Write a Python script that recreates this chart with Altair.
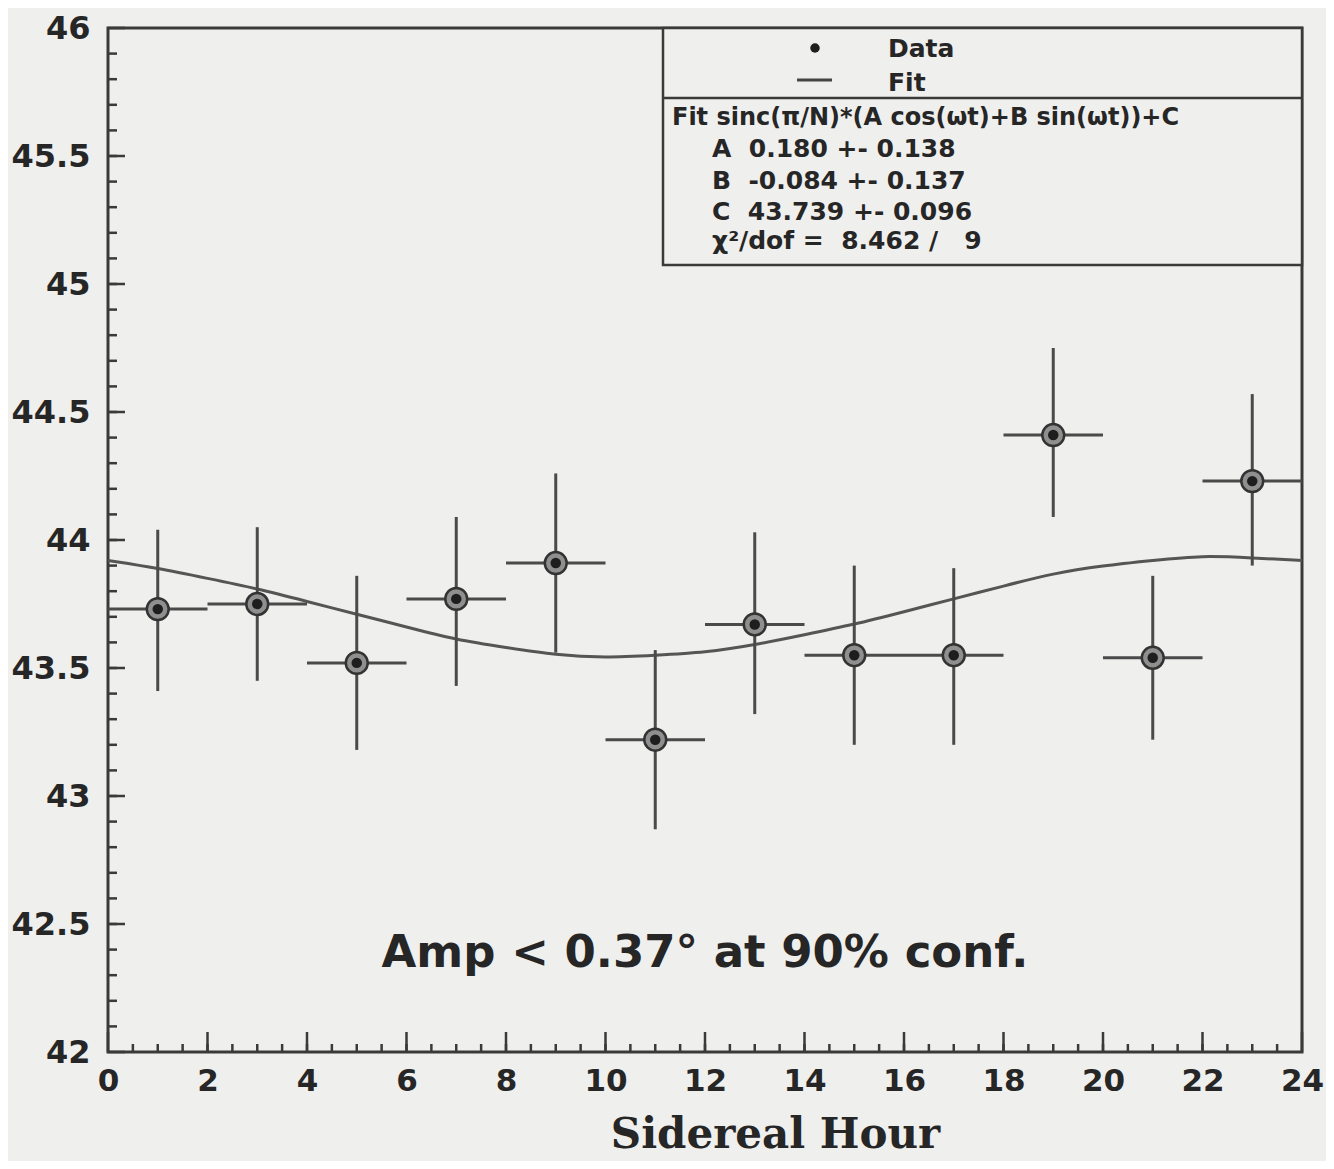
import altair as alt
import pandas as pd
import numpy as np

# ---- data ----
hours = [1, 3, 5, 7, 9, 11, 13, 15, 17, 19, 21, 23]
bin_lo = [0, 2, 4, 6, 8, 10, 12, 14, 16, 18, 20, 22]
bin_hi = [2, 4, 6, 8, 10, 12, 14, 16, 18, 20, 22, 24]
values = [43.73, 43.75, 43.52, 43.77, 43.91, 43.22, 43.67, 43.55, 43.55, 44.41, 43.54, 44.23]
err_hi = [44.04, 44.05, 43.86, 44.09, 44.26, 43.57, 44.03, 43.90, 43.89, 44.75, 43.86, 44.57]
err_lo = [43.41, 43.45, 43.18, 43.43, 43.56, 42.87, 43.32, 43.20, 43.20, 44.09, 43.22, 43.90]

fit_t = list(range(0, 25))
fit_y = [43.92, 43.89, 43.85, 43.81, 43.76, 43.71, 43.66, 43.61, 43.58, 43.55,
         43.54, 43.55, 43.56, 43.59, 43.63, 43.67, 43.72, 43.77, 43.82, 43.87,
         43.90, 43.92, 43.94, 43.93, 43.92]

x_tick_labels = list(range(0, 25, 2))
y_tick_labels = [42, 42.5, 43, 43.5, 44, 44.5, 45, 45.5, 46]

# ---- style ----
BG = "#efefed"
INK = "#3a3a3a"
TXT = "#262626"
W, H = 1194, 1024

pts = pd.DataFrame({"hour": hours, "lo": bin_lo, "hi": bin_hi,
                    "val": values, "ehi": err_hi, "elo": err_lo})
fit = pd.DataFrame({"t": fit_t, "y": fit_y})

xs = alt.Scale(domain=[0, 24], nice=False, zero=False)
ys = alt.Scale(domain=[42, 46], nice=False, zero=False)

xaxis = alt.Axis(values=x_tick_labels, tickSize=0, domain=False, grid=False,
                 labelFont="DejaVu Sans", labelFontWeight="bold", labelFontSize=31,
                 labelColor=TXT, labelPadding=14, labelFlush=False, labelOverlap=False,
                 title="Sidereal Hour", titleFont="DejaVu Serif", titleFontWeight="bold",
                 titleFontSize=42, titleColor=TXT, titleX=667, titleY=95,
                 titleAlign="center", titleBaseline="alphabetic")
yaxis = alt.Axis(values=y_tick_labels, tickSize=0, domain=False, grid=False, format="~g",
                 labelFont="DejaVu Sans", labelFontWeight="bold", labelFontSize=32,
                 labelColor=TXT, labelPadding=18, labelFlush=False, labelOverlap=False,
                 title=None)

base_axes = alt.Chart(fit).mark_line(strokeWidth=3, color="#555555",
                                     interpolate="basis").encode(
    x=alt.X("t:Q", scale=xs, axis=xaxis),
    y=alt.Y("y:Q", scale=ys, axis=yaxis),
)

vbars = alt.Chart(pts).mark_rule(strokeWidth=3, color="#4a4a4a").encode(
    x=alt.X("hour:Q", scale=xs), y=alt.Y("elo:Q", scale=ys), y2="ehi:Q")
hbars = alt.Chart(pts).mark_rule(strokeWidth=3, color="#4a4a4a").encode(
    x=alt.X("lo:Q", scale=xs), x2="hi:Q", y=alt.Y("val:Q", scale=ys))
ring = alt.Chart(pts).mark_point(shape="circle", filled=True, size=480, fill="#8f8f8f",
                                 stroke="#333333", strokeWidth=2.5, opacity=1).encode(
    x=alt.X("hour:Q", scale=xs), y=alt.Y("val:Q", scale=ys))
dot = alt.Chart(pts).mark_point(shape="circle", filled=True, size=110, color="#1e1e1e",
                                opacity=1).encode(
    x=alt.X("hour:Q", scale=xs), y=alt.Y("val:Q", scale=ys))

# inward ticks
ymaj = pd.DataFrame({"v": y_tick_labels})
ymin = pd.DataFrame({"v": [round(v, 1) for v in np.arange(42.1, 46.0, 0.1)]})
xmaj = pd.DataFrame({"v": x_tick_labels})
xmin = pd.DataFrame({"v": list(np.arange(0.5, 24.0, 0.5))})

ytick_maj = alt.Chart(ymaj).mark_rule(strokeWidth=2.5, color=INK).encode(
    y=alt.Y("v:Q", scale=ys), x=alt.value(0), x2=alt.value(17))
ytick_min = alt.Chart(ymin).mark_rule(strokeWidth=2.5, color=INK).encode(
    y=alt.Y("v:Q", scale=ys), x=alt.value(0), x2=alt.value(9))
xtick_maj = alt.Chart(xmaj).mark_rule(strokeWidth=2.5, color=INK).encode(
    x=alt.X("v:Q", scale=xs), y=alt.value(H), y2=alt.value(H - 20))
xtick_min = alt.Chart(xmin).mark_rule(strokeWidth=2.5, color=INK).encode(
    x=alt.X("v:Q", scale=xs), y=alt.value(H), y2=alt.value(H - 8))

one = pd.DataFrame({"k": [0]})

# legend / stats box
box = alt.Chart(one).mark_rect(fill=BG, stroke=INK, strokeWidth=2.5).encode(
    x=alt.value(555), x2=alt.value(W), y=alt.value(0), y2=alt.value(237))
divider = alt.Chart(one).mark_rule(strokeWidth=2.5, color=INK).encode(
    x=alt.value(555), x2=alt.value(W), y=alt.value(70))
leg_dot = alt.Chart(one).mark_point(shape="circle", filled=True, size=90, color="#1e1e1e",
                                    opacity=1).encode(x=alt.value(707), y=alt.value(20))
leg_line = alt.Chart(one).mark_rule(strokeWidth=3, color="#444").encode(
    x=alt.value(689), x2=alt.value(724), y=alt.value(52))


def txt(s, x, y, size, align="left", baseline="middle", font="DejaVu Sans"):
    return alt.Chart(one).mark_text(text=s, align=align, baseline=baseline, font=font,
                                    fontSize=size, fontWeight="bold", color=TXT).encode(
        x=alt.value(x), y=alt.value(y))


NB = "\u00a0"
texts = [
    txt("Data", 780, 21, 25),
    txt("Fit", 780, 55, 25),
    txt("Fit sinc(\u03c0/N)*(A cos(\u03c9t)+B sin(\u03c9t))+C", 564, 90, 24),
    txt("A" + NB * 2 + "0.180 +- 0.138", 604, 121, 25),
    txt("B" + NB * 2 + "-0.084 +- 0.137", 604, 153, 25),
    txt("C" + NB * 2 + "43.739 +- 0.096", 604, 184, 25),
    txt("\u03c7\u00b2/dof =" + NB * 2 + "8.462 /" + NB * 3 + "9", 604, 213, 25),
]

amp = alt.Chart(one).mark_text(text="Amp < 0.37\u00b0 at 90% conf.", align="center",
                               baseline="alphabetic", font="DejaVu Sans", fontSize=45,
                               fontWeight="bold", color=TXT).encode(
    x=alt.value(597), y=alt.value(939))

chart = alt.layer(
    base_axes, vbars, hbars, ring, dot,
    ytick_min, ytick_maj, xtick_min, xtick_maj,
    box, divider, leg_dot, leg_line, *texts, amp
).properties(
    width=W, height=H,
    autosize=alt.AutoSizeParams(type="none"),
    padding={"left": 100, "top": 20, "right": 24, "bottom": 109},
    background=BG,
).configure_view(stroke=INK, strokeWidth=3, fill=BG)

chart.save("out.html", embed_options={"renderer": "svg", "actions": False})
